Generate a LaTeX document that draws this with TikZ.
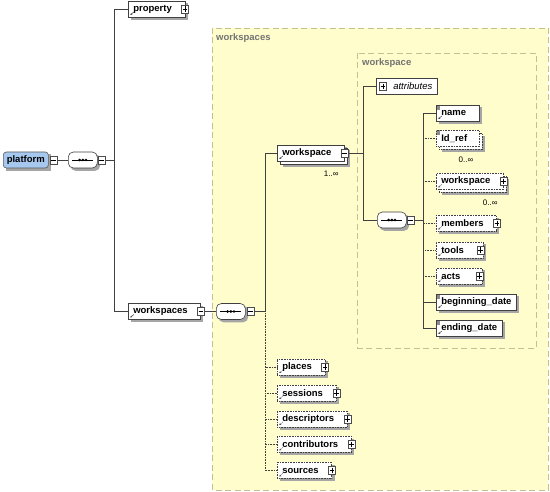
\documentclass[tikz,border=0pt]{standalone}
\usepackage{fontspec}
\setmainfont{Liberation Sans}
\usetikzlibrary{arrows.meta}

\definecolor{areafill}{RGB}{255,253,204}
\definecolor{arealine}{RGB}{196,192,150}
\definecolor{rootfill}{RGB}{166,200,238}
\definecolor{wirecol}{RGB}{64,64,64}

\pgfdeclarelayer{areas}
\pgfdeclarelayer{shades}
\pgfsetlayers{areas,shades,main}

% marks inside the element boxes
\newcommand{\refarrow}{\draw[wirecol, line width=0.5pt, -{Stealth[length=2pt,width=2pt]}]
  ([shift={(5.5pt,5pt)}]path picture bounding box.south west) -- ++(-3.5pt,-3pt);}
\newcommand{\typemark}{\fill[black!45] (path picture bounding box.north west) rectangle ++(4pt,-5pt);}
\newcommand{\gap}{\kern8pt}

\tikzset{
  wire/.style={draw=wirecol, line width=0.6pt},
  optwire/.style={wire, densely dotted},
  shadow/.style={fill=black!35, draw=none},
  box/.style={draw=black!75, fill=white, line width=0.6pt, anchor=west,
    minimum height=16pt, inner xsep=5pt, inner ysep=0pt,
    font=\fontsize{9.5}{11}\selectfont\bfseries},
  elem/.style={box, path picture={\refarrow}},
  simple/.style={box, path picture={\refarrow\typemark}},
  bare/.style={box, path picture={\typemark}},
  opt/.style={densely dotted},
  many/.style={preaction={draw=black!75, fill=white, transform canvas={shift={(3pt,-3pt)}}}},
  optmany/.style={opt, preaction={draw=black!75, fill=white, densely dotted, transform canvas={shift={(3pt,-3pt)}}}},
  plus/.style={draw=black!70, fill=white, line width=0.5pt, minimum width=7pt, minimum height=8pt, inner sep=0pt,
    path picture={\draw[black, line width=0.5pt]
      ([xshift=1.2pt]path picture bounding box.west) -- ([xshift=-1.2pt]path picture bounding box.east)
      ([yshift=-1.2pt]path picture bounding box.north) -- ([yshift=1.2pt]path picture bounding box.south);}},
  minus/.style={plus, path picture={\draw[black, line width=0.5pt]
      ([xshift=1.2pt]path picture bounding box.west) -- ([xshift=-1.2pt]path picture bounding box.east);}},
  seq/.style={draw=black!75, fill=white, line width=0.6pt, rounded corners=5pt, anchor=west,
    minimum width=29pt, minimum height=16pt, inner sep=0pt,
    path picture={\draw[black, line width=0.5pt]
      ([xshift=4pt]path picture bounding box.west) -- ([xshift=-4pt]path picture bounding box.east);
      \foreach \dx in {-3.2,0,3.2} \fill[black] ([xshift=\dx pt]path picture bounding box.center) circle (1.45pt);}},
  root/.style={draw=black!65, fill=rootfill, line width=0.6pt, rounded corners=3pt, anchor=west,
    minimum width=45pt, minimum height=16pt, inner xsep=3pt, inner ysep=0pt,
    font=\fontsize{9.5}{11}\selectfont\bfseries},
  attr/.style={draw=black!75, fill=white, line width=0.6pt, anchor=west,
    minimum height=16pt, inner xsep=5pt, inner ysep=0pt, font=\fontsize{9.5}{11}\selectfont\itshape},
  occurs/.style={anchor=east, inner sep=0pt, font=\fontsize{8}{9}\selectfont},
  area/.style={fill=areafill, draw=arealine, line width=0.7pt, dash pattern=on 6pt off 3.5pt},
  arealabel/.style={anchor=west, inner sep=0pt, text=black!55, font=\fontsize{9.5}{11}\selectfont\bfseries}
}

\begin{document}
\begin{tikzpicture}[x=1pt, y=-1pt]
\useasboundingbox (0,0) rectangle (550,492);

% content areas
\begin{pgfonlayer}{areas}
\filldraw[area] (212,28) rectangle (548,490);
\filldraw[area] (357,53) rectangle (536,348);
\end{pgfonlayer}
\node[arealabel] (wss-t) at (216,38) {workspaces};
\node[arealabel] (ws-t) at (362,63) {workspace};

% platform
\node[root] (platform) at (3,160) {platform};
\node[minus, anchor=west] (platform-x) at ([xshift=1pt]platform.east) {};
\node[seq] (s1) at (68,160) {};
\node[minus, anchor=west] (s1-x) at (s1.east) {};
\coordinate (b1) at (114,160);

\node[elem] (property) at (128,9) {property\gap};
\node[plus] (property-x) at (property.east) {};
\node[elem] (workspaces) at (128,311.5) {workspaces\gap};
\node[minus] (workspaces-x) at (workspaces.east) {};

% workspaces
\node[seq] (s2) at (216,311.5) {};
\node[minus, anchor=west] (s2-x) at ([xshift=1pt]s2.east) {};
\coordinate (b2) at (265,311.5);

\node[elem, many] (workspace) at (277,153) {workspace\gap};
\node[minus] (workspace-x) at (workspace.east) {};
\node[occurs] (workspace-n) at ([shift={(-6pt,-12pt)}]workspace.south east) {1..∞};

\node[elem, opt] (places) at (277,367) {places\gap};
\node[plus] (places-x) at (places.east) {};
\node[elem, opt] (sessions) at (277,393) {sessions\gap};
\node[plus] (sessions-x) at (sessions.east) {};
\node[elem, opt] (descriptors) at (277,419) {descriptors\gap};
\node[plus] (descriptors-x) at (descriptors.east) {};
\node[elem, opt] (contributors) at (277,444.5) {contributors\gap};
\node[plus] (contributors-x) at (contributors.east) {};
\node[elem, opt] (sources) at (277,470.5) {sources\gap};
\node[plus] (sources-x) at (sources.east) {};

% workspace
\coordinate (b3) at (363,153);
\node[attr] (attributes) at (376,86.5) {\kern12pt attributes};
\node[plus] (attributes-x) at ([xshift=7pt]attributes.west) {};
\node[seq] (s3) at (377,220) {};
\node[minus, anchor=west] (s3-x) at (s3.east) {};
\coordinate (b4) at (423,220);

\node[simple] (name) at (436,113) {name\kern8pt};
\node[bare, optmany] (idref) at (436,138.5) {Id\_ref\kern7pt};
\node[occurs] (idref-n) at ([shift={(-6pt,-12.5pt)}]idref.south east) {0..∞};
\node[elem, optmany] (subspace) at (436,181.5) {workspace\gap};
\node[plus] (subspace-x) at (subspace.east) {};
\node[occurs] (subspace-n) at ([shift={(-6pt,-12.5pt)}]subspace.south east) {0..∞};
\node[elem, opt] (members) at (436,223.5) {members\gap};
\node[plus] (members-x) at (members.east) {};
\node[elem, opt] (tools) at (436,250) {tools\kern14pt};
\node[plus] (tools-x) at ([xshift=-3pt]tools.east) {};
\node[elem, opt] (acts) at (436,276) {acts\kern17pt};
\node[plus] (acts-x) at ([xshift=-3pt]acts.east) {};
\node[simple] (beginning) at (436,302) {beginning\_date};
\node[simple] (ending) at (436,328) {ending\_date};

% shadows
\begin{pgfonlayer}{shades}
\foreach \n in {platform,property,workspaces,workspace,places,sessions,descriptors,
    contributors,sources,name,idref,subspace,members,tools,acts,beginning,ending}
  \fill[shadow] ([shift={(2.5pt,-2.5pt)}]\n.north west) rectangle ([shift={(2.5pt,-2.5pt)}]\n.south east);
\foreach \n in {workspace,idref,subspace}
  \fill[shadow] ([shift={(5.5pt,-5.5pt)}]\n.north west) rectangle ([shift={(5.5pt,-5.5pt)}]\n.south east);
\foreach \n in {s1,s2,s3}
  \fill[shadow, rounded corners=5pt] ([shift={(2.5pt,-2.5pt)}]\n.north west) rectangle ([shift={(2.5pt,-2.5pt)}]\n.south east);
\end{pgfonlayer}

% connectors
\draw[wire] (platform-x) -- (s1);
\draw[wire] (s1-x) -- (b1);
\draw[wire] (b1) |- (property);
\draw[wire] (b1) |- (workspaces);

\draw[wire] (workspaces-x) -- (s2);
\draw[wire] (s2-x) -- (b2);
\draw[wire] (b2) |- (workspace);
\foreach \n in {places,sessions,descriptors,contributors,sources}
  \draw[optwire] (b2) |- (\n);

\draw[wire] (workspace-x) -- (b3);
\draw[wire] (b3) |- (attributes);
\draw[wire] (b3) |- (s3);
\draw[wire] (s3-x) -- (b4);
\foreach \n in {idref,subspace,members,tools,acts}
  \draw[optwire] (b4) |- (\n);
\foreach \n in {name,beginning,ending}
  \draw[wire] (b4) |- (\n);
\end{tikzpicture}
\end{document}
